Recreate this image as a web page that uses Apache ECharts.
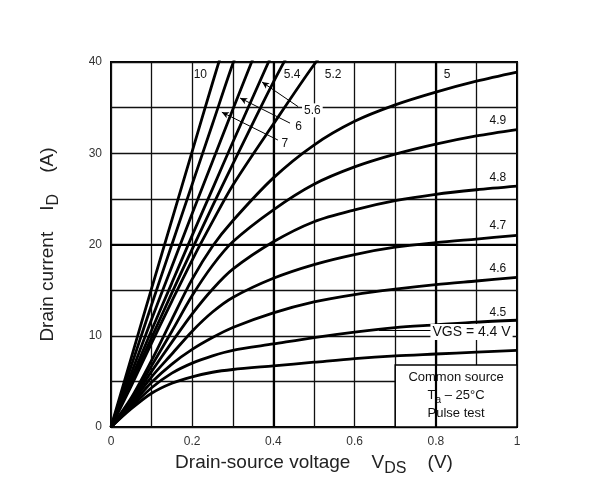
<!DOCTYPE html>
<html>
<head>
<meta charset="utf-8">
<script src="https://cdn.jsdelivr.net/npm/echarts@6/dist/echarts.min.js"></script>
<style>
html, body { margin: 0; padding: 0; background: #fff; }
#chart { width: 609px; height: 494px; }
</style>
</head>
<body>
<div id="chart"></div>
<script>
// drain-source voltage samples (V)
const vds = [0, 0.05, 0.1, 0.15, 0.2, 0.25, 0.3, 0.4, 0.5, 0.6, 0.7, 0.8, 0.9, 1.0];

// drain current (A) for each gate voltage
const id44 = [0, 2.0, 3.7, 4.8, 5.5, 6.0, 6.3, 6.7, 7.1, 7.5, 7.8, 8.0, 8.2, 8.4];
const id45 = [0, 2.2, 4.3, 5.9, 7.0, 7.8, 8.4, 9.1, 9.8, 10.4, 10.9, 11.2, 11.5, 11.7];
const id46 = [0, 2.4, 4.9, 6.9, 8.5, 9.8, 10.9, 12.5, 13.7, 14.5, 15.1, 15.6, 16.0, 16.4];
const id47 = [0, 2.6, 5.5, 8.0, 10.5, 12.6, 14.2, 16.3, 17.8, 18.9, 19.7, 20.2, 20.6, 21.0];
const id48 = [0, 2.8, 6.1, 9.3, 12.4, 15.1, 17.3, 20.3, 22.5, 23.8, 24.8, 25.5, 26.0, 26.4];
const id49 = [0, 3.0, 6.7, 10.5, 14.4, 17.7, 20.3, 23.8, 26.6, 28.5, 29.9, 31.0, 31.9, 32.6];
const id50 = [0, 3.2, 7.3, 11.8, 16.2, 19.8, 22.6, 27.3, 30.9, 33.5, 35.3, 36.7, 37.9, 38.9];
const id52 = [0, 4.5, 9.2, 13.8, 18.3, 22.5, 26.5, 33.2, 39.7, 45.5];
const id54 = [0, 4.9, 9.8, 14.7, 19.5, 24.2, 28.8, 37.8, 46.0];
const id56 = [0, 5.3, 10.6, 15.8, 21.0, 26.1, 31.2, 41.2];
const id6 = [0, 5.9, 11.8, 17.6, 23.4, 29.1, 34.8, 46.0];
const id7 = [0, 6.7, 13.4, 20.0, 26.6, 33.2, 39.8, 52.0];
const id10 = [0, 7.6, 15.2, 22.7, 30.2, 37.7, 45.0];

const curves = [id44, id45, id46, id47, id48, id49, id50, id52, id54, id56, id6, id7, id10];
const vgsNames = ['4.4', '4.5', '4.6', '4.7', '4.8', '4.9', '5', '5.2', '5.4', '5.6', '6', '7', '10'];

const xTickLabels = ['0', '0.2', '0.4', '0.6', '0.8', '1'];
const yTickLabels = ['0', '10', '20', '30', '40'];

const FONT = '"Liberation Sans", Arial, sans-serif';

const chart = echarts.init(document.getElementById('chart'));

const pairs = ys => ys.map((y, i) => [vds[i], y]);

const series = curves.map((ys, k) => ({
  name: vgsNames[k],
  type: 'line',
  data: pairs(ys),
  smooth: 0.3,
  showSymbol: false,
  clip: true,
  lineStyle: { color: '#000', width: 2.8 },
  z: 3
}));

const lbl = (text, x, y, extra) => ({
  coord: [x, y],
  symbol: 'circle',
  symbolSize: 0,
  label: Object.assign({
    show: true, formatter: text, position: 'inside',
    color: '#111', fontSize: 12, fontFamily: FONT
  }, extra || {})
});

const whiteBg = { backgroundColor: '#fff', padding: [1, 2] };

// arrows, box and curve labels
series.push({
  type: 'line',
  data: [],
  silent: true,
  z: 4,
  markLine: {
    silent: true,
    symbol: ['none', 'arrow'],
    symbolSize: [5, 7],
    label: { show: false },
    lineStyle: { color: '#000', width: 1, type: 'solid' },
    data: [
      [{ coord: [0.461, 35.1] }, { coord: [0.372, 37.8] }],
      [{ coord: [0.441, 33.3] }, { coord: [0.318, 36.05] }],
      [{ coord: [0.411, 31.45] }, { coord: [0.273, 34.5] }],
      [{ coord: [0.66, 10.6], symbol: 'none' }, { coord: [0.79, 10.6], symbol: 'none' }]
    ]
  },
  markArea: {
    silent: true,
    itemStyle: { color: '#fff', borderColor: '#000', borderWidth: 1.5 },
    label: {
      show: true, position: 'inside', color: '#111', fontFamily: FONT, fontSize: 13,
      formatter: '{t|Common source}\n{t|T}{s|a}{t| – 25°C}\n{t|Pulse test}',
      rich: {
        t: { fontSize: 13, fontFamily: FONT, color: '#111', lineHeight: 18, padding: [0, 0, 3, 0], verticalAlign: 'bottom' },
        s: { fontSize: 10, fontFamily: FONT, color: '#111', verticalAlign: 'bottom' }
      }
    },
    data: [[{ coord: [0.7, 0] }, { coord: [1, 6.8] }]]
  },
  markPoint: {
    silent: true,
    data: [
      lbl('10', 0.22, 38.6),
      lbl('5.4', 0.446, 38.6),
      lbl('5.2', 0.547, 38.6),
      lbl('5', 0.828, 38.6),
      lbl('5.6', 0.496, 34.7, whiteBg),
      lbl('6', 0.462, 32.9, whiteBg),
      lbl('7', 0.428, 31.1, whiteBg),
      lbl('4.9', 0.953, 33.6),
      lbl('4.8', 0.953, 27.3),
      lbl('4.7', 0.953, 22.1),
      lbl('4.6', 0.953, 17.4),
      lbl('4.5', 0.953, 12.5),
      lbl('VGS = 4.4 V', 0.888, 10.4, { backgroundColor: '#fff', padding: [1, 2], fontSize: 14 })
    ]
  }
});

// heavier grid lines at 0.4 V, 0.8 V and 20 A
series.unshift({
  type: 'line',
  data: [],
  silent: true,
  z: 2,
  markLine: {
    silent: true,
    symbol: 'none',
    label: { show: false },
    lineStyle: { color: '#000', width: 2.2, type: 'solid' },
    data: [{ xAxis: 0.4 }, { xAxis: 0.8 }, { yAxis: 20 }]
  }
});

const titleRich = {
  t: { fontSize: 19, fontFamily: FONT, color: '#222', padding: [0, 0, 5, 0], verticalAlign: 'bottom' },
  s: { fontSize: 16, fontFamily: FONT, color: '#222', verticalAlign: 'bottom' }
};

chart.setOption({
  animation: false,
  backgroundColor: '#fff',
  grid: {
    left: 111, right: 92, top: 62, bottom: 67,
    show: true, borderColor: '#000', borderWidth: 2
  },
  xAxis: {
    type: 'value', min: 0, max: 1, interval: 0.1,
    axisLine: { show: false },
    axisTick: { show: false },
    splitLine: { lineStyle: { color: '#111', width: 1.3 } },
    axisLabel: {
      color: '#333', fontSize: 12, fontFamily: FONT, margin: 9,
      formatter: v => {
        const k = Math.round(v * 10);
        return k % 2 === 0 ? xTickLabels[k / 2] : '';
      }
    },
    name: '{t|Drain-source voltage    V}{s|DS}{t|    (V)}',
    nameLocation: 'middle',
    nameGap: 23,
    nameTextStyle: { rich: titleRich }
  },
  yAxis: {
    type: 'value', min: 0, max: 40, interval: 5,
    axisLine: { show: false },
    axisTick: { show: false },
    splitLine: { lineStyle: { color: '#111', width: 1.3 } },
    axisLabel: {
      color: '#333', fontSize: 12, fontFamily: FONT, margin: 9,
      formatter: v => (v % 10 === 0 ? yTickLabels[v / 10] : '')
    },
    name: '{t|Drain current    I}{s|D}{t|    (A)}',
    nameLocation: 'middle',
    nameGap: 49,
    nameTextStyle: { rich: titleRich }
  },
  series: series
});
</script>
</body>
</html>
